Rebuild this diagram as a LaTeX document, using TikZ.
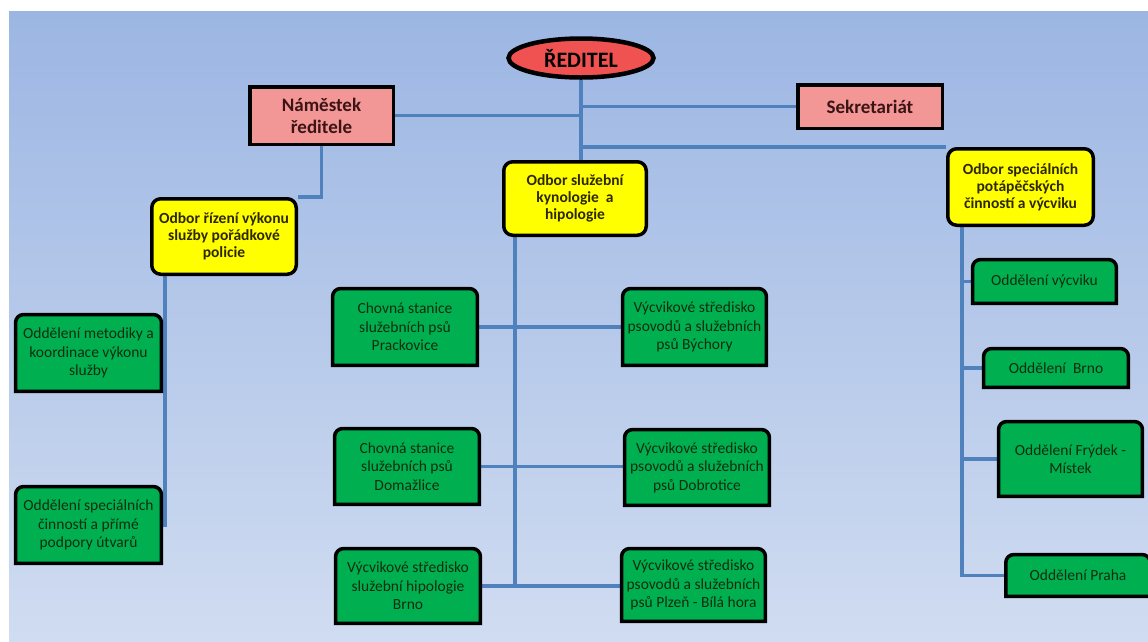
\documentclass[tikz,border=0pt]{standalone}
\usepackage{fontspec}
\setmainfont{Carlito}
\usetikzlibrary{shapes.geometric,calc}
\definecolor{bgtop}{RGB}{156,182,227}
\definecolor{bgbot}{RGB}{208,220,241}
\definecolor{linec}{RGB}{79,129,189}
\definecolor{redf}{RGB}{240,82,82}
\definecolor{pinkf}{RGB}{242,150,150}
\definecolor{yelf}{RGB}{255,255,0}
\definecolor{grnf}{RGB}{0,176,80}
\definecolor{pinkt}{RGB}{60,20,20}
\definecolor{yelt}{RGB}{45,40,0}
\definecolor{grnt}{RGB}{15,45,15}
\pgfdeclarelayer{bglayer}
\pgfdeclarelayer{lineslayer}
\pgfdeclarelayer{shapeslayer}
\pgfsetlayers{bglayer,lineslayer,shapeslayer,main}
\begin{document}
\begin{tikzpicture}[x=1pt,y=-1pt,
  dims/.style 2 args={minimum width=#1pt,minimum height=#2pt},
  bw/.style={line width=3.5pt},
  conn/.style={draw=linec,line width=3.5pt},
  ellbox/.style={ellipse,draw,line width=4.5pt,fill=redf,inner sep=0pt,font=\bfseries\fontsize{22}{24}\selectfont,text=black},
  pinkbox/.style={rectangle,draw,bw,fill=pinkf,inner sep=2pt,align=center,text=pinkt,font=\bfseries\fontsize{19}{22}\selectfont},
  yelbox/.style={rectangle,rounded corners=9pt,draw,bw,fill=yelf,inner sep=2pt,align=center,text=yelt,font=\bfseries\fontsize{15.5}{17}\selectfont},
  grnbox/.style={rectangle,inner sep=2pt,align=center,text=grnt,font=\fontsize{15.5}{18.5}\selectfont},
  gshape/.style={draw=black,bw,fill=grnf}
]
\useasboundingbox (0,0) rectangle (1148,641);
\clip (0,0) rectangle (1148,641);
\begin{pgfonlayer}{bglayer}
\fill[white] (0,0) rectangle (1148,641);
\shade[top color=bgtop,bottom color=bgbot] (9,11) rectangle (1148,641);
\end{pgfonlayer}

% top level
\node[ellbox,dims={145}{39}] (dir) at (581,58) {ŘEDITEL};
\node[pinkbox,dims={143.5}{57.5}] (nam) at (321.5,115.5) {Náměstek\\ředitele};
\node[pinkbox,dims={144.5}{43.5}] (sek) at (870,106.5) {Sekretariát};
\node[yelbox,dims={142.5}{73.5}] (kyn) at (575,198.5) {Odbor služební\\kynologie\ \ a\\hipologie};
\node[yelbox,dims={145.5}{76.5}] (pot) at (1020.5,187) {Odbor speciálních\\potápěčských\\činností a výcviku};
\node[yelbox,dims={144.5}{75.5}] (riz) at (224,236.5) {Odbor řízení výkonu\\služby pořádkové\\policie};

% green boxes
\node[grnbox,dims={145.5}{76.5}] (met) at (88.5,353) {Oddělení metodiky a\\koordinace výkonu\\služby};
\node[grnbox,dims={145.5}{76.5}] (spc) at (88.5,525) {Oddělení speciálních\\činností a přímé\\podpory útvarů};
\node[grnbox,dims={144.5}{76.5}] (prk) at (405,327) {Chovná stanice\\služebních psů\\Prackovice};
\node[grnbox,dims={143.5}{76.5}] (bych) at (694.5,327) {Výcvikové středisko\\psovodů a služebních\\psů Býchory};
\node[grnbox,dims={144.5}{75.5}] (dom) at (407,466.5) {Chovná stanice\\služebních psů\\Domažlice};
\node[grnbox,dims={144.5}{75.5}] (dob) at (697,467.5) {Výcvikové středisko\\psovodů a služebních\\psů Dobrotice};
\node[grnbox,dims={144.5}{74.5}] (hip) at (408,586) {Výcvikové středisko\\služební hipologie\\Brno};
\node[grnbox,dims={143.5}{72.5}] (plz) at (693.5,585) {Výcvikové středisko\\psovodů a služebních\\psů Plzeň - Bílá hora};
\node[grnbox,dims={143.5}{43.5}] (vyc) at (1044.5,281.5) {Oddělení výcviku};
\node[grnbox,dims={144.5}{38.5}] (brn) at (1056,368) {Oddělení\ \ Brno};
\node[grnbox,dims={143.5}{74.5}] (fry) at (1070.5,459) {Oddělení Frýdek -\\Místek};
\node[grnbox,dims={144}{41.5}] (pra) at (1078,575.5) {Oddělení Praha};

\begin{pgfonlayer}{shapeslayer}
\foreach \n in {met,spc,prk,bych,dom,dob,hip,plz,vyc,brn,fry,pra}{
  \draw[gshape] (\n.south west) [rounded corners=8pt] -- (\n.north west) -- (\n.north east) [sharp corners] -- (\n.south east) -- cycle;
}
\end{pgfonlayer}

\begin{pgfonlayer}{lineslayer}
% main trunk
\draw[conn] (dir.south) -- (dir.south |- kyn.north);
\draw[conn] (nam.east) -- (nam.east -| dir.south);
\draw[conn] (sek.west) -- (sek.west -| dir.south);
\draw[conn] (pot.north west) -- (pot.north west -| dir.south);
\draw[conn] (nam.south) |- (riz.north east);
% left branch
\coordinate (rl) at ($(riz.south west)+(15,0)$);
\draw[conn] (rl) -- (rl |- spc.east) -- (spc.east);
\draw[conn] (met.east) -- (met.east -| rl);
% middle branch
\coordinate (ml) at ($(kyn.south west)+(13,0)$);
\draw[conn] (ml) -- (ml |- hip.east);
\draw[conn] (prk.east) -- (prk.east -| bych.west);
\draw[conn] (dom.east) -- (dom.east -| dob.west);
\draw[conn] (hip.east) -- (hip.east -| plz.west);
% right branch
\coordinate (rr) at ($(pot.south west)+(16,0)$);
\draw[conn] (rr) -- (rr |- pra.west) -- (pra.west);
\draw[conn] (vyc.west -| rr) -- (vyc.west);
\draw[conn] (brn.west -| rr) -- (brn.west);
\draw[conn] (fry.west -| rr) -- (fry.west);
\end{pgfonlayer}
\end{tikzpicture}
\end{document}
